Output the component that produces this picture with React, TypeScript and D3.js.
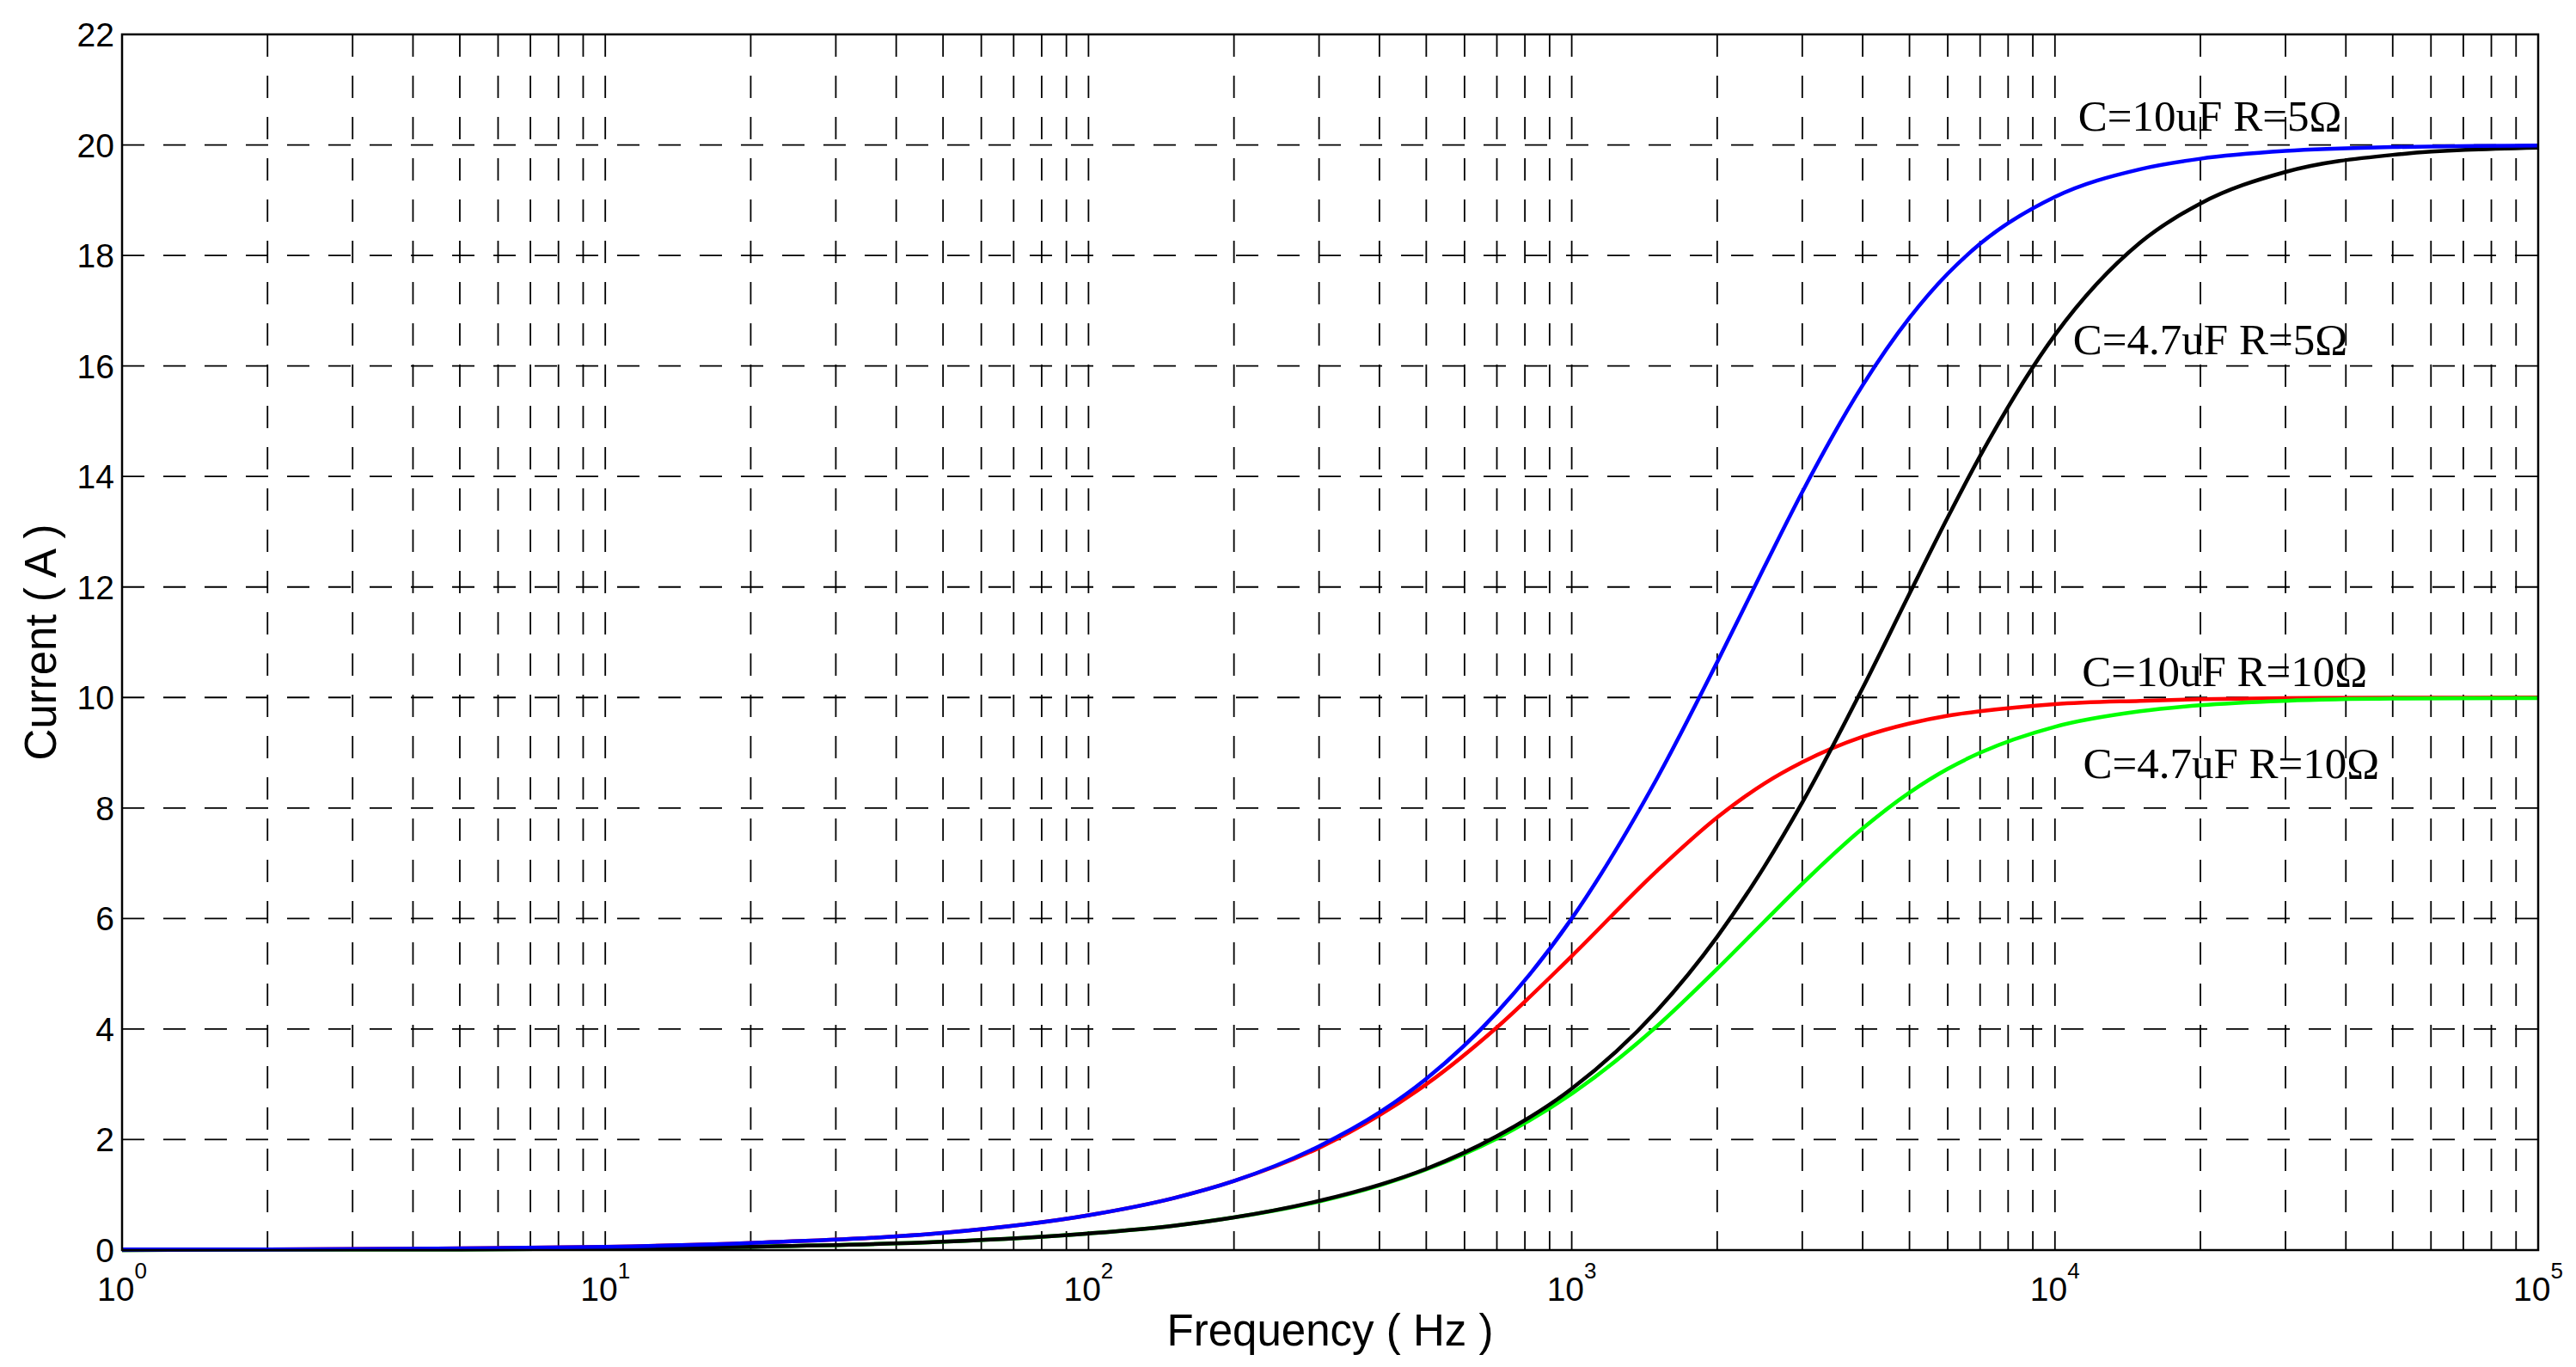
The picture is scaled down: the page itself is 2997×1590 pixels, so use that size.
import React, { useEffect, useRef } from "react";
import * as d3 from "d3";

// frequency samples (Hz) and current (A)
const freqs = [1, 2, 5, 10, 20, 50, 100, 150, 200, 300, 400, 500, 700, 1000, 1500, 2000, 2500, 3000, 4000, 5000, 6000, 7000, 10000, 15000, 20000, 30000, 50000, 100000];

const c10r5 = [0.01, 0.01, 0.03, 0.06, 0.13, 0.31, 0.63, 0.94, 1.25, 1.88, 2.49, 3.1, 4.3, 6.0, 8.53, 10.64, 12.35, 13.72, 15.65, 16.87, 17.67, 18.21, 19.06, 19.56, 19.75, 19.89, 19.96, 19.99];
const c10r10 = [0.01, 0.01, 0.03, 0.06, 0.13, 0.31, 0.63, 0.94, 1.25, 1.85, 2.44, 3.0, 4.03, 5.32, 6.86, 7.83, 8.44, 8.83, 9.29, 9.53, 9.67, 9.75, 9.88, 9.94, 9.97, 9.99, 9.995, 10.0];
const c47r5 = [0.0, 0.01, 0.01, 0.03, 0.06, 0.15, 0.3, 0.44, 0.59, 0.89, 1.18, 1.47, 2.06, 2.92, 4.33, 5.67, 6.93, 8.1, 10.17, 11.88, 13.26, 14.37, 16.56, 18.23, 18.94, 19.51, 19.82, 19.95];
const c47r10 = [0.0, 0.01, 0.01, 0.03, 0.06, 0.15, 0.3, 0.44, 0.59, 0.88, 1.17, 1.46, 2.02, 2.83, 4.05, 5.09, 5.94, 6.63, 7.63, 8.28, 8.71, 9.0, 9.47, 9.75, 9.86, 9.94, 9.98, 9.99];

// drawing order: red and green underneath, black and blue on top
const seriesNames = ["C=10uF R=10Ω", "C=4.7uF R=10Ω", "C=4.7uF R=5Ω", "C=10uF R=5Ω"];
const seriesValues = [c10r10, c47r10, c47r5, c10r5];
const seriesColors = ["#ff0000", "#00ff00", "#000000", "#0000ff"];
// label anchor (Hz, A)
const labelFreq = [11370, 11430, 10900, 11170];
const labelCurrent = [10.21, 8.54, 16.21, 20.26];

const yTicks = [0, 2, 4, 6, 8, 10, 12, 14, 16, 18, 20, 22];
const decades = [0, 1, 2, 3, 4, 5];

const App: React.FC = () => {
  const svgRef = useRef<SVGSVGElement>(null);

  useEffect(() => {
    if (!svgRef.current) return;
    d3.select(svgRef.current).selectAll("*").remove();

    const width = 2997;
    const height = 1590;
    const left = 142, right = 2953, top = 40, bottom = 1454;

    const svg = d3.select(svgRef.current)
      .attr("width", width)
      .attr("height", height)
      .attr("viewBox", `0 0 ${width} ${height}`);

    svg.append("rect").attr("width", width).attr("height", height).attr("fill", "#fff");

    const x = d3.scaleLog().domain([1, 1e5]).range([left, right]);
    const y = d3.scaleLinear().domain([0, 22]).range([bottom, top]);

    const grid = svg.append("g")
      .attr("stroke", "#000")
      .attr("stroke-width", 1.8)
      .attr("stroke-dasharray", "26 22");

    // vertical grid: every decade and 2..9 within
    const gridFreqs: number[] = [];
    for (let e = 0; e < 5; e++) {
      for (let m = 1; m <= 9; m++) {
        if (e === 0 && m === 1) continue;
        gridFreqs.push(m * Math.pow(10, e));
      }
    }
    grid.selectAll(".vg")
      .data(gridFreqs)
      .enter().append("line")
      .attr("x1", d => x(d)).attr("x2", d => x(d))
      .attr("y1", top).attr("y2", bottom);

    grid.selectAll(".hg")
      .data(yTicks.filter(t => t > 0 && t < 22))
      .enter().append("line")
      .attr("x1", left).attr("x2", right)
      .attr("y1", d => y(d)).attr("y2", d => y(d));

    // curves
    const line = d3.line<number>()
      .x((_, i) => x(freqs[i]))
      .y(d => y(d))
      .curve(d3.curveMonotoneX);

    seriesValues.forEach((vals, i) => {
      svg.append("path")
        .attr("d", line(vals))
        .attr("fill", "none")
        .attr("stroke", seriesColors[i])
        .attr("stroke-width", 4.5)
        .attr("stroke-linejoin", "round");
    });

    // axis box
    svg.append("rect")
      .attr("x", left).attr("y", top)
      .attr("width", right - left).attr("height", bottom - top)
      .attr("fill", "none")
      .attr("stroke", "#000")
      .attr("stroke-width", 2.5);

    const sans = "'Liberation Sans', Arial, sans-serif";

    // y tick labels
    svg.selectAll(".yt")
      .data(yTicks)
      .enter().append("text")
      .attr("x", left - 9)
      .attr("y", d => y(d))
      .attr("dy", "0.36em")
      .attr("text-anchor", "end")
      .attr("font-family", sans)
      .attr("font-size", 39)
      .text(d => d);

    // x tick labels 10^n
    const xt = svg.selectAll(".xt")
      .data(decades)
      .enter().append("text")
      .attr("x", d => x(Math.pow(10, d)))
      .attr("y", bottom + 59)
      .attr("text-anchor", "middle")
      .attr("font-family", sans);
    xt.append("tspan").attr("font-size", 39).text("10");
    xt.append("tspan").attr("font-size", 26).attr("dy", -26).text(d => d);

    // axis titles
    svg.append("text")
      .attr("x", (left + right) / 2)
      .attr("y", 1565)
      .attr("text-anchor", "middle")
      .attr("font-family", sans)
      .attr("font-size", 51)
      .text("Frequency ( Hz )");

    svg.append("text")
      .attr("transform", `translate(65, ${(top + bottom) / 2}) rotate(-90)`)
      .attr("text-anchor", "middle")
      .attr("font-family", sans)
      .attr("font-size", 51)
      .text("Current ( A )");

    // curve labels
    svg.selectAll(".lbl")
      .data(seriesNames)
      .enter().append("text")
      .attr("x", (_, i) => x(labelFreq[i]))
      .attr("y", (_, i) => y(labelCurrent[i]))
      .attr("font-family", "'Liberation Serif', 'Times New Roman', serif")
      .attr("font-size", 51)
      .text(d => d);
  }, []);

  return <svg ref={svgRef} style={{ position: "absolute", left: 0, top: 0 }} />;
};

export default App;
